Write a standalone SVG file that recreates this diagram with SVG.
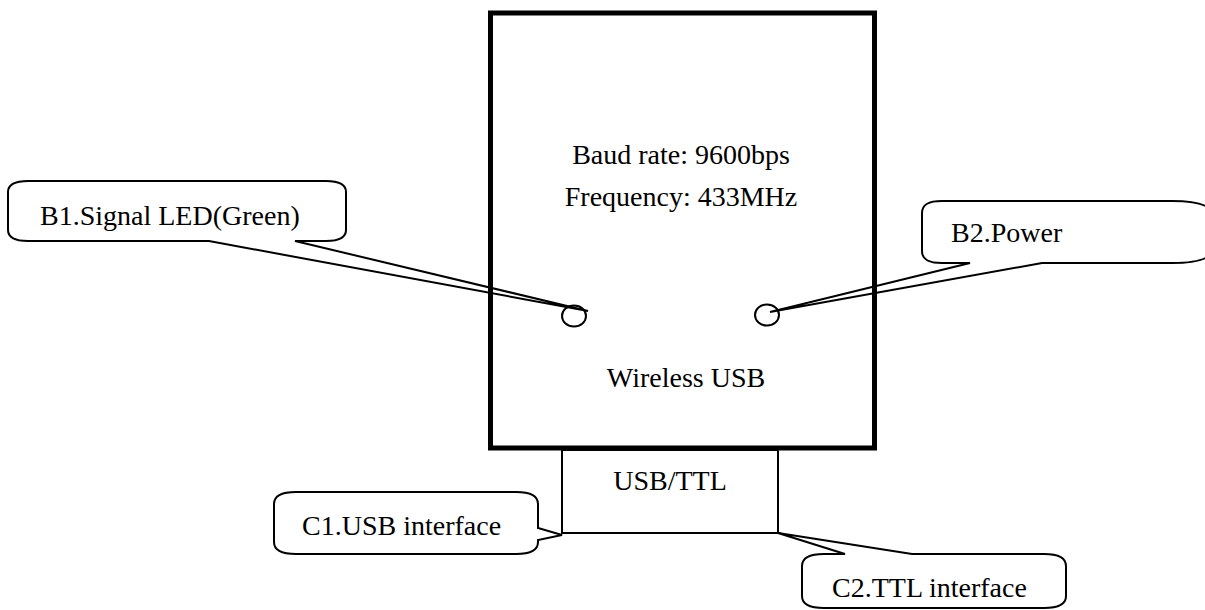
<svg xmlns="http://www.w3.org/2000/svg" width="1205" height="610" viewBox="0 0 1205 610">
<style>
text{font-family:"Liberation Serif","Times New Roman",serif;font-size:28px;fill:#000}
.c{text-anchor:middle}
.box{fill:none;stroke:#000}
.callout{fill:none;stroke:#000;stroke-width:2;stroke-linejoin:miter}
.led{fill:none;stroke:#000;stroke-width:2}
</style>
<rect width="1205" height="610" fill="#fff"/>
<g id="wireless-usb">
<rect class="box" x="490.5" y="13" width="384" height="435" stroke-width="5"/>
<text class="c" x="681" y="164">Baud rate: 9600bps</text>
<text class="c" x="681" y="206">Frequency: 433MHz</text>
<text class="c" x="686" y="387">Wireless USB</text>
</g>
<g id="led-signal"><ellipse class="led" cx="574" cy="316" rx="12" ry="10.5"/></g>
<g id="led-power"><ellipse class="led" cx="767" cy="315" rx="12" ry="10.5"/></g>
<g id="usb-ttl">
<rect class="box" x="562" y="450" width="216" height="83" stroke-width="2"/>
<text class="c" x="670" y="490">USB/TTL</text>
</g>
<g id="connectors">
<g id="b1">
<path class="callout" d="M8,192 C8,184 16,181 28,181 L326,181 C338,181 346,184 346,192 L346,230 C346,238 338,241 326,241 L295,241 L588,311 L209,241 L28,241 C16,241 8,238 8,230 Z"/>
<text x="40" y="225">B1.Signal LED(Green)</text>
</g>
<g id="b2">
<path class="callout" d="M922,213 C922,204 929,201 942,201 L1172,201 C1200,201 1212,206 1212,215 L1212,249 C1212,258 1200,263 1172,263 L1042,263 L770,312 L970,263 L942,263 C929,263 922,260 922,251 Z"/>
<text x="951" y="242">B2.Power</text>
</g>
<g id="c1">
<path class="callout" d="M274,504 C274,495 282,492 296,492 L516,492 C530,492 538,495 538,504 L538,528 L562,535 L538,540 L538,542 C538,551 530,554 516,554 L296,554 C282,554 274,551 274,542 Z"/>
<text x="302" y="535">C1.USB interface</text>
</g>
<g id="c2">
<path class="callout" d="M802,566 C802,557 810,554 824,554 L845,554 L778,533 L912,554 L1044,554 C1058,554 1066,557 1066,566 L1066,596 C1066,605 1058,608 1044,608 L824,608 C810,608 802,605 802,596 Z"/>
<text x="832" y="597">C2.TTL interface</text>
</g>
</g>
</svg>
